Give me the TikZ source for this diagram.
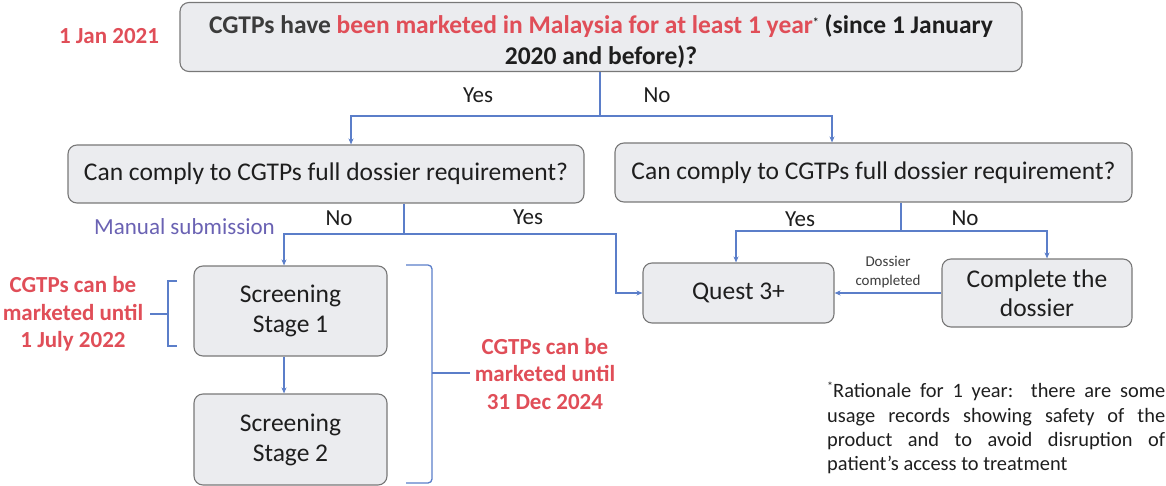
\documentclass[tikz,border=0pt]{standalone}
\usepackage{fontspec}
\setmainfont{Carlito}
\usetikzlibrary{arrows.meta}
\definecolor{boxfill}{HTML}{EBECEF}
\definecolor{boxdraw}{HTML}{787878}
\definecolor{lineblue}{HTML}{5B7EC9}
\definecolor{redtxt}{HTML}{E04E58}
\definecolor{manual}{HTML}{6A62B3}
\definecolor{darktxt}{HTML}{1E1E1E}
\definecolor{greytxt}{HTML}{3C3C3C}
\tikzset{
  box/.style={draw=boxdraw, line width=1.1pt, fill=boxfill, rounded corners=9pt, align=center, inner sep=0pt, text=darktxt},
  conn/.style={draw=lineblue, line width=1.3pt},
  arr/.style={conn, -{Stealth[length=6pt,width=5pt]}},
  lbl/.style={font=\fontsize{23}{26}\selectfont, text=darktxt},
  redlbl/.style={font=\fontsize{23}{27.5}\selectfont\bfseries, text=redtxt, align=center},
  boxfont/.style={font=\fontsize{25.5}{30}\selectfont},
}
\newcommand{\smallast}{{\fontsize{12}{12}\selectfont\raisebox{7pt}{*}}}
\begin{document}
\begin{tikzpicture}[x=1pt,y=-1pt]
\useasboundingbox (0,0) rectangle (1166,486);
% nodes
\node[box, minimum width=842pt, minimum height=69pt, font=\fontsize{25.5}{31}\selectfont\bfseries] (top) at (601,37)
  {\rule{0pt}{27pt}\textcolor{greytxt}{CGTPs have} \textcolor{redtxt}{been marketed in Malaysia for at least 1 year}\smallast{} (since 1 January\\ 2020 and before)?};
\node[redlbl] (jan) at (109,36) {1 Jan 2021};
\node[box, boxfont, minimum width=516pt, minimum height=58pt] (lq) at (326,174) {Can comply to CGTPs full dossier requirement?};
\node[box, boxfont, minimum width=517pt, minimum height=59pt] (rq) at (873.5,172.5) {Can comply to CGTPs full dossier requirement?};
\node[box, boxfont, minimum width=193pt, minimum height=90pt] (s1) at (290.5,311) {Screening\\ Stage 1};
\node[box, boxfont, minimum width=193pt, minimum height=91pt] (s2) at (290.5,439.5) {Screening\\ Stage 2};
\node[box, boxfont, minimum width=191pt, minimum height=60pt] (quest) at (738.5,293) {Quest 3+};
\node[box, font=\fontsize{25.5}{29}\selectfont, minimum width=190pt, minimum height=68pt] (comp) at (1037,293) {Complete the\\ dossier};
% labels
\node[lbl] (yes1) at (478,95) {Yes};
\node[lbl] (no1) at (657,95) {No};
\node[lbl] (no2) at (339,218) {No};
\node[lbl] (yes2) at (528,217) {Yes};
\node[lbl] (yes3) at (800,219) {Yes};
\node[lbl] (no3) at (965,218) {No};
\node[font=\fontsize{23}{26}\selectfont, text=manual] (man) at (184.5,227) {Manual submission};
\node[font=\fontsize{15}{19}\selectfont, text=greytxt, align=center] (dc) at (888,272) {Dossier\\ completed};
\node[redlbl] (red1) at (73,314) {CGTPs can be\\ marketed until\\ 1 July 2022};
\node[redlbl] (red2) at (545,374) {CGTPs can be\\ marketed until\\ 31 Dec 2024};
\node[text width=338pt, align=justify, inner sep=0pt, anchor=north west, font=\fontsize{20.4}{24.3}\selectfont, text=darktxt] (note) at (827,382)
  {\smallast Rationale for 1 year:\ \ there are some\linebreak usage records showing safety of the\linebreak product and to avoid disruption of\linebreak patient's access to treatment};
% junction coordinates
\coordinate (j1) at (600,116);
\coordinate (j2) at (404,234);
\coordinate (j3) at (901,231);
\coordinate (c1) at (616,234);
\coordinate (xa) at (351,0);
\coordinate (xb) at (832,0);
\coordinate (xs) at (284,0);
\coordinate (xq) at (736,0);
\coordinate (xc) at (1047,0);
% connectors
\draw[conn] (top.south -| j1) -- (j1);
\draw[arr] (j1) -| (lq.north -| xa);
\draw[arr] (j1) -| (rq.north -| xb);
\draw[conn] (lq.south -| j2) -- (j2);
\draw[arr] (j2) -| (s1.north -| xs);
\draw[arr] (j2) -- (c1) |- (quest.west);
\draw[arr] (s1.south -| xs) -- (s2.north -| xs);
\draw[conn] (rq.south -| j3) -- (j3);
\draw[arr] (j3) -| (quest.north -| xq);
\draw[arr] (j3) -| (comp.north -| xc);
\draw[arr] (comp.west) -- (quest.east);
% brackets
\coordinate (b1t) at (177,281);
\coordinate (b1b) at (177,346);
\coordinate (b1m) at (168,314);
\draw[conn] (b1t) -- (168,281) -- (168,346) -- (b1b);
\draw[conn] (b1m) -- (150,314);
\coordinate (b2t) at (406,265);
\coordinate (b2b) at (406,483);
\coordinate (b2m) at (432,373);
\draw[conn, rounded corners=4pt] (b2t) -- (432,265) -- (432,483) -- (b2b);
\draw[conn] (b2m) -- (470,373);
\end{tikzpicture}
\end{document}
